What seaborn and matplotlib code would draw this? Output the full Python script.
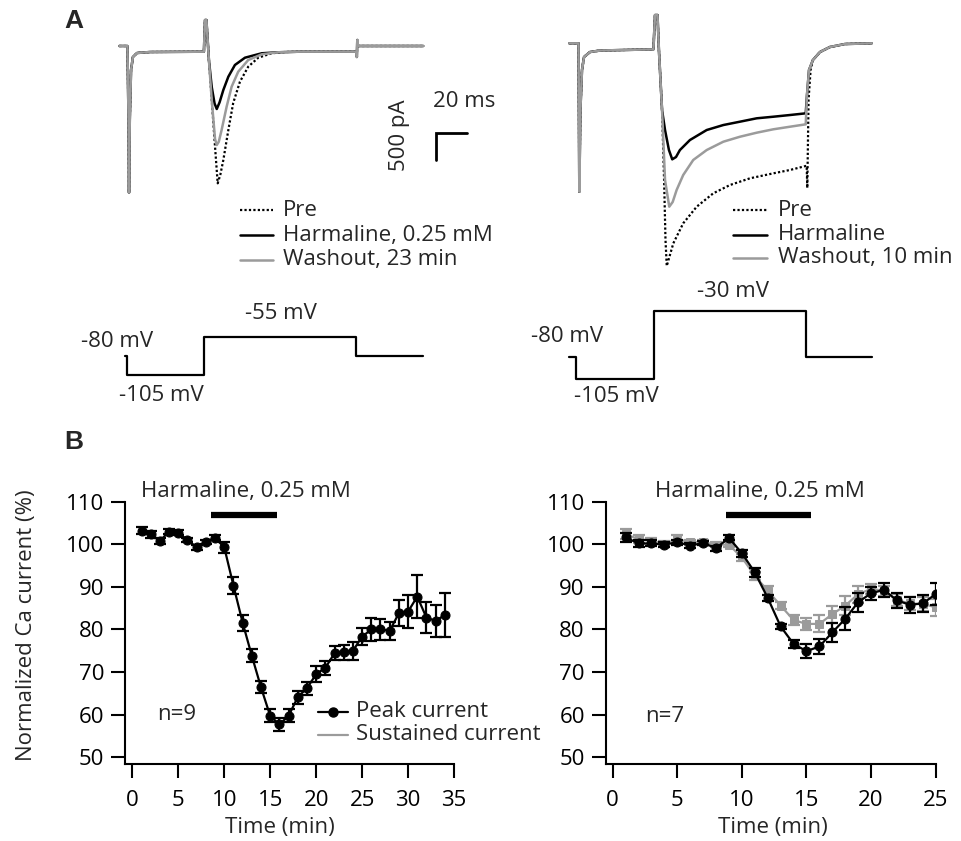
import numpy as np
import pandas as pd
import matplotlib
matplotlib.use("Agg")
import matplotlib.pyplot as plt
from matplotlib.lines import Line2D
import seaborn as sns

# ---------------- DATA ----------------
# Panel B left (n=9): peak current, normalized (%)
time_left = list(range(1, 35))
peak_left = [103.2, 102.3, 100.8, 103.0, 102.7, 101.0, 99.3, 100.6, 101.5, 99.3,
             90.3, 81.6, 73.8, 66.4, 59.7, 57.7, 59.7, 64.1, 66.2, 69.5,
             71.0, 74.4, 74.6, 75.0, 78.3, 80.0, 80.0, 79.7, 83.8, 84.2,
             87.7, 82.8, 82.0, 83.4]
peak_left_err = [0.9, 0.9, 0.7, 0.6, 0.6, 0.5, 0.6, 0.5, 0.6, 1.25,
                 2.0, 1.9, 1.5, 1.4, 1.5, 1.5, 1.5, 1.5, 1.5, 1.8,
                 1.7, 1.6, 1.7, 2.1, 2.0, 2.6, 2.5, 2.1, 3.1, 3.9,
                 5.1, 3.6, 3.7, 5.2]

# Panel B right (n=7): peak and sustained current
time_right = list(range(1, 26))
peak_right = [101.6, 100.2, 100.2, 99.9, 100.5, 99.7, 100.3, 99.1, 101.5, 97.9,
              93.4, 87.4, 80.7, 76.6, 74.9, 76.0, 79.3, 82.5, 86.4, 88.5,
              89.3, 86.8, 85.8, 86.1, 88.3]
peak_right_err = [1.0, 0.8, 0.7, 0.6, 0.6, 0.5, 0.5, 0.6, 0.6, 0.8,
                  1.0, 0.8, 0.6, 1.0, 1.6, 1.8, 2.3, 2.7, 2.2, 1.5,
                  1.7, 1.8, 1.9, 1.9, 2.6]
sust_right = [102.4, 101.2, 100.8, 100.1, 101.2, 100.5, 100.5, 99.9, 99.9, 96.9,
              92.6, 89.1, 85.6, 82.2, 81.3, 81.3, 83.6, 85.6, 88.3, 89.5,
              89.1, 86.9, 86.1, 86.0, 85.2]
sust_right_err = [1.2, 0.9, 0.7, 0.6, 0.9, 0.6, 0.6, 0.6, 0.6, 0.9,
                  1.0, 1.0, 0.8, 1.2, 1.5, 2.0, 2.0, 2.3, 2.0, 1.2,
                  1.2, 1.5, 1.5, 1.7, 2.0]

# Drug application periods (min) and bar level (%)
harm_left = [8.6, 15.7]
harm_right = [8.8, 15.35]
harm_level = 106.8

# Panel A current traces (time in ms, current in pA)
trL_start_t = [0, 5.2, 5.9, 6.2, 6.7, 7.5, 8.7, 11.3, 19.6, 54.0, 54.7, 55.6, 56.6, 57.2]
trL_start_i = [0, 0, -1353, -2682, -1353, -439, -201, -128, -110, -104, 475, 475, 18, -256]
trL_harm_t = [59.0, 60.8, 62.2, 64.0, 66.4, 69.6, 73.8, 80.2, 90.9, 101.3, 115]
trL_harm_i = [-750, -1050, -1152, -1030, -804, -561, -347, -214, -133, -115, -104]
trL_wash_t = [59.0, 61.1, 62.2, 63.5, 65.3, 68.5, 71.7, 75.9, 82.3, 90.9, 101.3, 115]
trL_wash_i = [-987, -1700, -1810, -1750, -1536, -1110, -744, -470, -256, -152, -115, -104]
trL_pre_t = [59.0, 61.1, 62.8, 64.5, 66.4, 69.6, 72.7, 77.0, 82.3, 88.7, 97.3, 105.7, 115]
trL_pre_i = [-987, -1841, -2510, -2350, -2084, -1536, -1042, -653, -378, -214, -133, -110, -104]
trL_end_t = [151.4, 151.6, 151.9, 152.3, 153.0, 194]
trL_end_i = [-104, -201, 110, 0, 0, 0]

trR_start_t = [0, 5.9, 6.4, 7.1, 8.1, 9.4, 13.2, 19.6, 53.7, 54.7, 56.3, 57.2, 59.2]
trR_start_i = [0, 0, -2713, -1219, -488, -250, -159, -132, -110, 517, 517, -122, -1219]
trR_harm_t = [61.1, 63.6, 65.7, 68.1, 70.6, 77.0, 87.7, 98.3, 108.9, 119.6, 130.2, 140.8,
              150.9, 151.7, 153.0, 155.5, 160.0, 166.3, 175.9, 193.0]
trR_harm_i = [-1585, -1951, -2121, -2079, -1951, -1768, -1585, -1494, -1433, -1371, -1342, -1311,
              -1280, -947, -488, -305, -159, -68, -13, 0]
trR_wash_t = [61.1, 63.8, 66.0, 68.5, 72.7, 79.1, 87.7, 98.3, 108.9, 119.6, 130.2, 140.8,
              150.9, 151.7, 153.0, 155.5, 160.0, 166.3, 175.9, 193.0]
trR_wash_i = [-2499, -2987, -2900, -2682, -2408, -2133, -1951, -1799, -1708, -1634, -1572, -1525,
              -1481, -947, -488, -305, -159, -68, -13, 0]
trR_pre_t = [60.5, 61.4, 62.2, 66.4, 72.7, 81.3, 91.9, 102.6, 115.3, 130.2, 140.8, 150.9,
             151.5, 151.9, 152.7, 154.0, 155.5, 160.0, 166.3, 175.9, 193.0]
trR_pre_i = [-2499, -3596, -4071, -3656, -3291, -2987, -2742, -2590, -2468, -2377, -2316, -2243,
             -2243, -2645, -1037, -488, -305, -159, -68, -13, 0]

# Voltage protocols (ms, mV)
protL_t = [3.6, 4.7, 4.7, 54.0, 54.0, 151.0, 151.0, 193.6]
protL_v = [-80, -80, -105, -105, -55, -55, -80, -80]
protR_t = [0, 4.3, 4.3, 54.0, 54.0, 151.0, 151.0, 193.4]
protR_v = [-80, -80, -105, -105, -30, -30, -80, -80]

# Scale bar: 20 ms, 500 pA
scale_ms = 20
scale_pA = 500

# ---------------- STYLE ----------------
sns.set_style("white")
plt.rcParams['font.family'] = ['Open Sans', 'DejaVu Sans']
FS = 16
GRAY = '#9b9b9b'
W, H = 961, 841
fig = plt.figure(figsize=(W / 100, H / 100), dpi=100)


def ax_px(x0, y0, x1, y1):
    return fig.add_axes([x0 / W, 1 - y1 / H, (x1 - x0) / W, (y1 - y0) / H])


def fx(px):
    return px / W


def fy(py):
    return 1 - py / H


# ---------------- PANEL A: traces ----------------
def trace_axes(box, ylim):
    ax = ax_px(*box)
    ax.set_xlim(-5.93, 198.3)
    ax.set_ylim(*ylim)
    ax.axis('off')
    return ax


axTL = trace_axes((110, 10, 430, 200), (-2815, 658))
axTR = trace_axes((560, 10, 880, 280), (-4327, 609))

for ax, st_t, st_i, pre, harm, wash, end in [
        (axTL, trL_start_t, trL_start_i, (trL_pre_t, trL_pre_i), (trL_harm_t, trL_harm_i),
         (trL_wash_t, trL_wash_i), (trL_end_t, trL_end_i)),
        (axTR, trR_start_t, trR_start_i, (trR_pre_t, trR_pre_i), (trR_harm_t, trR_harm_i),
         (trR_wash_t, trR_wash_i), None)]:
    for (tt, ii), kw in [(pre, dict(color='black', ls=(0, (1, 1)), lw=1.6)),
                         (harm, dict(color='black', ls='-', lw=1.8)),
                         (wash, dict(color=GRAY, ls='-', lw=1.8))]:
        t = list(st_t) + list(tt)
        i = list(st_i) + list(ii)
        if end is not None:
            t += list(end[0])
            i += list(end[1])
        ax.plot(t, i, **kw, clip_on=False, solid_joinstyle='round')

# scale bar in left trace axes
sb_t0, sb_i0 = 202.1, -2084
axTL.plot([sb_t0, sb_t0, sb_t0 + scale_ms], [sb_i0, sb_i0 + scale_pA, sb_i0 + scale_pA],
          color='black', lw=2, clip_on=False, solid_joinstyle='miter')
fig.text(fx(433), fy(101.7), f"{scale_ms} ms", fontsize=FS, ha='left', va='center')
fig.text(fx(400), fy(135), f"{scale_pA} pA", fontsize=FS, ha='center', va='center', rotation=90)

# protocols
axPL = ax_px(110, 320, 430, 390)
axPL.set_xlim(-5.93, 198.3)
axPL.set_ylim(-124.7, -32.6)
axPL.axis('off')
axPL.plot(protL_t, protL_v, color='black', lw=1.6)
axPR = ax_px(560, 290, 880, 395)
axPR.set_xlim(-5.93, 198.3)
axPR.set_ylim(-122.1, -6.7)
axPR.axis('off')
axPR.plot(protR_t, protR_v, color='black', lw=1.6)

fig.text(fx(116.7), fy(341.7), "-80 mV", fontsize=FS, ha='center', va='center')
fig.text(fx(161.7), fy(395), "-105 mV", fontsize=FS, ha='center', va='center')
fig.text(fx(280.5), fy(313.3), "-55 mV", fontsize=FS, ha='center', va='center')
fig.text(fx(566.7), fy(336.7), "-80 mV", fontsize=FS, ha='center', va='center')
fig.text(fx(616.7), fy(396.7), "-105 mV", fontsize=FS, ha='center', va='center')
fig.text(fx(733.3), fy(291.7), "-30 mV", fontsize=FS, ha='center', va='center')


# legends for panel A (manual)
def manual_legend(x0, x1, xtxt, ys, labels, styles):
    for y, lab, st in zip(ys, labels, styles):
        fig.add_artist(Line2D([fx(x0), fx(x1)], [fy(y), fy(y)], transform=fig.transFigure, **st))
        fig.text(fx(xtxt), fy(y), lab, fontsize=FS, ha='left', va='center')


stylesA = [dict(color='black', ls=(0, (1, 1)), lw=1.6),
           dict(color='black', lw=1.8),
           dict(color=GRAY, lw=1.8)]
manual_legend(240, 273.3, 282.7, [210, 235, 260],
              ["Pre", "Harmaline, 0.25 mM", "Washout, 23 min"], stylesA)
manual_legend(733.3, 766.7, 778, [210, 235, 258],
              ["Pre", "Harmaline", "Washout, 10 min"], stylesA)

fig.text(fx(64), fy(21), "A", fontsize=19, fontweight='bold', family='Liberation Sans',
         ha='left', va='center')
fig.text(fx(64), fy(442), "B", fontsize=19, fontweight='bold', family='Liberation Sans',
         ha='left', va='center')

# ---------------- PANEL B ----------------
axBL = ax_px(125, 501.7, 454, 764)
axBR = ax_px(605.7, 501.7, 935.7, 764)


def style_axis(ax, xlim, xticks):
    ax.set_xlim(*xlim)
    ax.set_ylim(48.4, 110)
    ax.set_xticks(xticks)
    ax.set_yticks(range(50, 111, 10))
    for s in ['top', 'right']:
        ax.spines[s].set_visible(False)
    for s in ['left', 'bottom']:
        ax.spines[s].set_linewidth(1.5)
        ax.spines[s].set_color('black')
    ax.tick_params(axis='both', direction='out', length=10, width=1.5, labelsize=FS,
                   colors='black', left=True, bottom=True)
    ax.tick_params(axis='x', pad=9)
    ax.tick_params(axis='y', pad=5)
    ax.set_facecolor('none')


style_axis(axBL, (-0.8, 35), range(0, 36, 5))
style_axis(axBR, (-0.54, 25), range(0, 26, 5))

dfL = pd.DataFrame({'t': time_left, 'v': peak_left})
dfRp = pd.DataFrame({'t': time_right, 'v': peak_right})
dfRs = pd.DataFrame({'t': time_right, 'v': sust_right})

# right: sustained (gray) under peak (black)
axBR.errorbar(time_right, sust_right, yerr=sust_right_err, fmt='none', ecolor=GRAY,
              elinewidth=1.6, capsize=4, capthick=1.6, zorder=2)
sns.lineplot(data=dfRs, x='t', y='v', ax=axBR, color=GRAY, lw=1.6, marker='s',
             markersize=6, markeredgecolor=GRAY, zorder=3, legend=False)
axBR.errorbar(time_right, peak_right, yerr=peak_right_err, fmt='none', ecolor='black',
              elinewidth=1.6, capsize=4, capthick=1.6, zorder=4)
sns.lineplot(data=dfRp, x='t', y='v', ax=axBR, color='black', lw=1.6, marker='o',
             markersize=6.5, markeredgecolor='black', zorder=5, legend=False)

axBL.errorbar(time_left, peak_left, yerr=peak_left_err, fmt='none', ecolor='black',
              elinewidth=1.6, capsize=4, capthick=1.6, zorder=4)
sns.lineplot(data=dfL, x='t', y='v', ax=axBL, color='black', lw=1.6, marker='o',
             markersize=6.5, markeredgecolor='black', zorder=5, legend=False)

for ax, hp in [(axBL, harm_left), (axBR, harm_right)]:
    ax.plot(hp, [harm_level, harm_level], color='black', lw=4.5, solid_capstyle='butt',
            clip_on=False)
    ax.set_xlabel("Time (min)", fontsize=FS)
    ax.set_ylabel("")

axBL.xaxis.set_label_coords(fx(280), fy(817), transform=fig.transFigure)
axBR.xaxis.set_label_coords(fx(773.3), fy(817), transform=fig.transFigure)
axBL.set_ylabel("Normalized Ca current (%)", fontsize=FS)
axBL.yaxis.set_label_coords(fx(37), fy(625), transform=fig.transFigure)

fig.text(fx(246), fy(491.7), "Harmaline, 0.25 mM", fontsize=FS, ha='center', va='center')
fig.text(fx(760.3), fy(491.7), "Harmaline, 0.25 mM", fontsize=FS, ha='center', va='center')
fig.text(fx(176.7), fy(715), "n=9", fontsize=FS, ha='center', va='center')
fig.text(fx(665), fy(716.7), "n=7", fontsize=FS, ha='center', va='center')

# legend B
fig.add_artist(Line2D([fx(318.3), fx(348.3)], [fy(711.7), fy(711.7)], transform=fig.transFigure,
                      color='black', lw=1.6))
fig.add_artist(Line2D([fx(333.3)], [fy(711.7)], transform=fig.transFigure,
                      color='black', marker='o', markersize=6.5, ls='none'))
fig.add_artist(Line2D([fx(318.3), fx(348.3)], [fy(735), fy(735)], transform=fig.transFigure,
                      color=GRAY, lw=1.6))
fig.text(fx(356), fy(711.7), "Peak current", fontsize=FS, ha='left', va='center')
fig.text(fx(356), fy(735), "Sustained current", fontsize=FS, ha='left', va='center')

fig.savefig("out.png", dpi=100)
